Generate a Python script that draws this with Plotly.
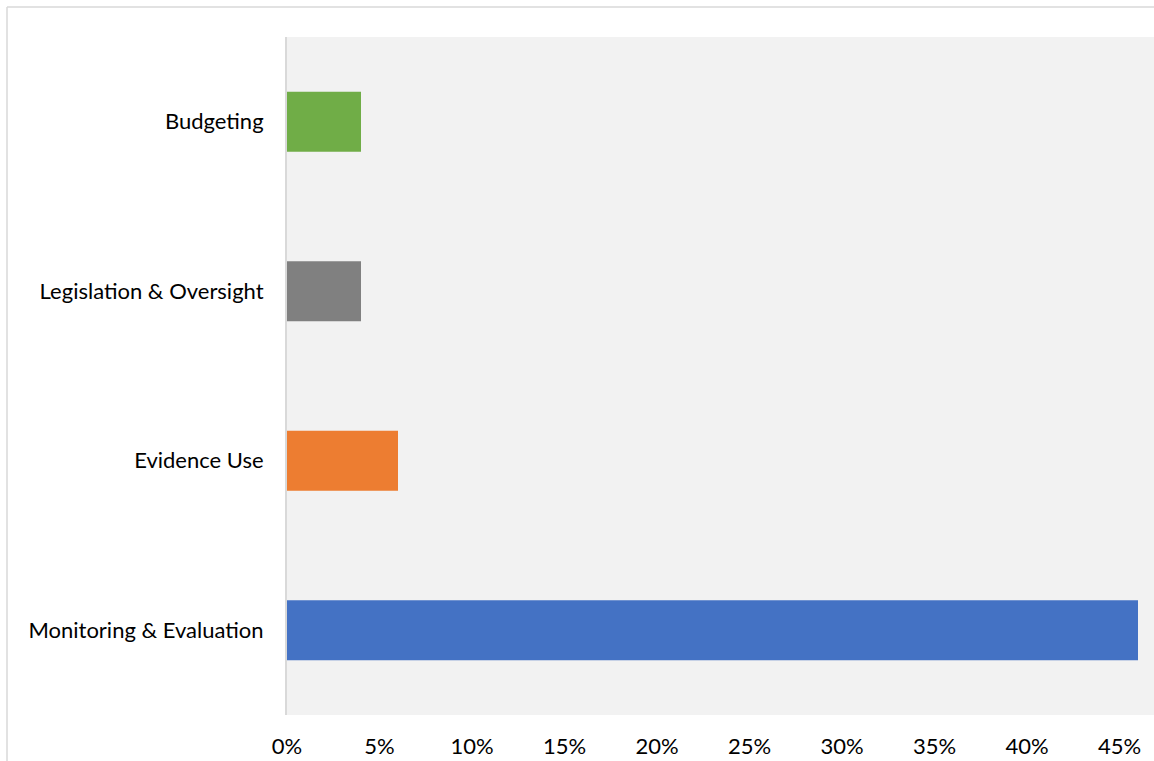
import plotly.graph_objects as go

categories = ["Monitoring & Evaluation", "Evidence Use", "Legislation & Oversight", "Budgeting"]
values = [0.46, 0.06, 0.04, 0.04]
colors = ["#4472C4", "#ED7D31", "#808080", "#70AD47"]
tick_vals = [0, 0.05, 0.10, 0.15, 0.20, 0.25, 0.30, 0.35, 0.40, 0.45]
tick_text = ["0%", "5%", "10%", "15%", "20%", "25%", "30%", "35%", "40%", "45%"]

W, H = 1154, 761
L, T, B, R = 287, 37, 46, 0
px_per_unit = 18.5 * 100
xmax = (W - L - R) / px_per_unit

fig = go.Figure(go.Bar(
    y=categories, x=values, orientation="h",
    marker=dict(color=colors, line=dict(width=0)),
    hoverinfo="x+y",
))

pw = W - L - R
ph = H - T - B
fig.update_layout(
    width=W, height=H,
    margin=dict(l=L, r=R, t=T, b=B, pad=0),
    paper_bgcolor="white", plot_bgcolor="#F2F2F2",
    bargap=0.646,
    showlegend=False,
    font=dict(family="Lato, Open Sans, sans-serif", size=22, color="#000000"),
    xaxis=dict(range=[0, xmax], tickvals=tick_vals, ticktext=tick_text,
               showgrid=False, zeroline=False, showline=False,
               ticks="outside", ticklen=12, tickcolor="rgba(0,0,0,0)",
               tickfont=dict(size=22)),
    yaxis=dict(showgrid=False, zeroline=False, showline=True, linecolor="#D9D9D9",
               linewidth=2, ticks="outside", ticklen=17, tickcolor="rgba(0,0,0,0)",
               tickfont=dict(size=22)),
    shapes=[
        dict(type="line", xref="paper", yref="paper",
             x0=(7 - L) / pw, x1=1.05, y0=1 + (T - 7) / ph, y1=1 + (T - 7) / ph,
             line=dict(color="#D9D9D9", width=1.5)),
        dict(type="line", xref="paper", yref="paper",
             x0=(7 - L) / pw, x1=(7 - L) / pw, y0=1 + (T - 7) / ph, y1=-B / ph - 0.05,
             line=dict(color="#D9D9D9", width=1.5)),
    ],
)

fig.write_html("out.html", config={"displayModeBar": False},
               post_script="document.body.style.margin='0';document.body.style.overflow='hidden';")
